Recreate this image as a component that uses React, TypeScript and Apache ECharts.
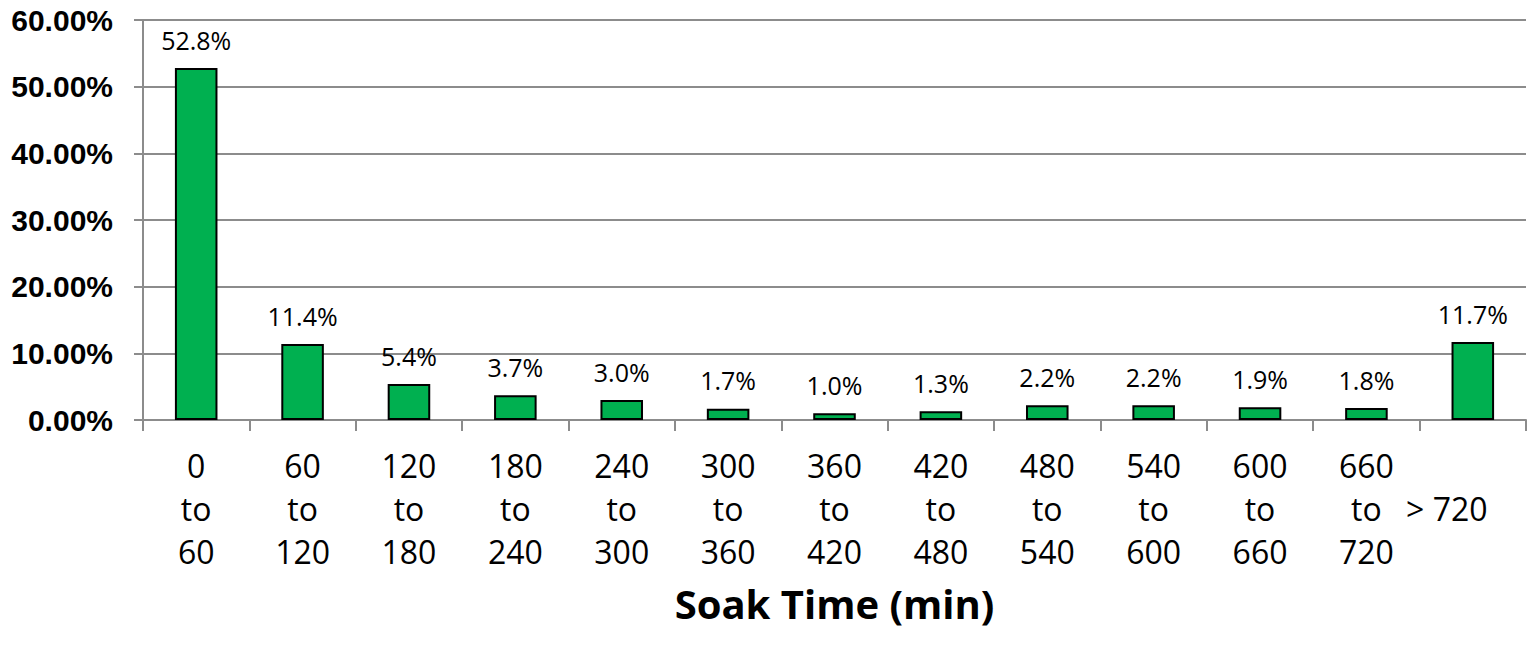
import React, { useEffect, useRef } from "react";
import * as echarts from "echarts";

const categories = [
  "0\nto\n60",
  "60\nto\n120",
  "120\nto\n180",
  "180\nto\n240",
  "240\nto\n300",
  "300\nto\n360",
  "360\nto\n420",
  "420\nto\n480",
  "480\nto\n540",
  "540\nto\n600",
  "600\nto\n660",
  "660\nto\n720",
  "> 720",
];
const shares = [52.8, 11.4, 5.4, 3.7, 3.0, 1.7, 1.0, 1.3, 2.2, 2.2, 1.9, 1.8, 11.7];
const axisTitle = "Soak Time (min)";

export default function App() {
  const ref = useRef<HTMLDivElement>(null);
  useEffect(() => {
    if (!ref.current) return;
    document.body.style.margin = "0";
    document.documentElement.style.overflow = "hidden";
    const chart = echarts.init(ref.current, undefined, { renderer: "svg", width: 1528, height: 649 });
    const labelFont = "'Open Sans', sans-serif";
    chart.setOption({
      animation: false,
      backgroundColor: "#ffffff",
      grid: {
        left: 143,
        right: 2,
        top: 20,
        bottom: 229,
        containLabel: false,
        outerBoundsMode: "none",
      },
      xAxis: {
        type: "category",
        data: categories,
        name: axisTitle,
        nameLocation: "middle",
        nameGap: 163,
        nameTextStyle: {
          fontFamily: labelFont,
          fontWeight: "bold",
          fontSize: 40,
          color: "#000",
        },
        axisLine: { lineStyle: { color: "#8c8c8c", width: 2 } },
        axisTick: { show: true, length: 11, alignWithLabel: false, lineStyle: { color: "#8c8c8c", width: 2 } },
        axisLabel: {
          interval: 0,
          margin: 24,
          fontFamily: labelFont,
          fontSize: 32,
          lineHeight: 43,
          color: "#000",
          formatter: (v: string) => (v.indexOf("\n") < 0 ? " \n{s|" + v + "}\n " : v),
          rich: {
            s: {
              fontFamily: labelFont,
              fontSize: 32,
              lineHeight: 43,
              color: "#000",
              padding: [0, 52, 0, 0],
            },
          },
        },
      },
      yAxis: {
        type: "value",
        min: 0,
        max: 60,
        interval: 10,
        axisLine: { show: true, lineStyle: { color: "#8c8c8c", width: 2 } },
        axisTick: { show: true, length: 9, lineStyle: { color: "#8c8c8c", width: 2 } },
        splitLine: { lineStyle: { color: "#8c8c8c", width: 2 } },
        axisLabel: {
          margin: 30,
          fontFamily: "'Liberation Sans', Arial, sans-serif",
          fontWeight: "bold",
          fontSize: 30,
          color: "#000",
          formatter: (v: number) => v.toFixed(2) + "%",
        },
      },
      series: [
        {
          type: "bar",
          data: shares,
          barWidth: "40%",
          itemStyle: { color: "#00b050", borderColor: "#000", borderWidth: 2 },
          label: {
            show: true,
            position: "top",
            distance: 16,
            fontFamily: labelFont,
            fontSize: 25,
            color: "#000",
            formatter: (p: any) => Number(p.value).toFixed(1) + "%",
          },
        },
      ],
    });
    return () => chart.dispose();
  }, []);
  return <div ref={ref} style={{ width: 1528, height: 649, background: "#fff" }} />;
}
